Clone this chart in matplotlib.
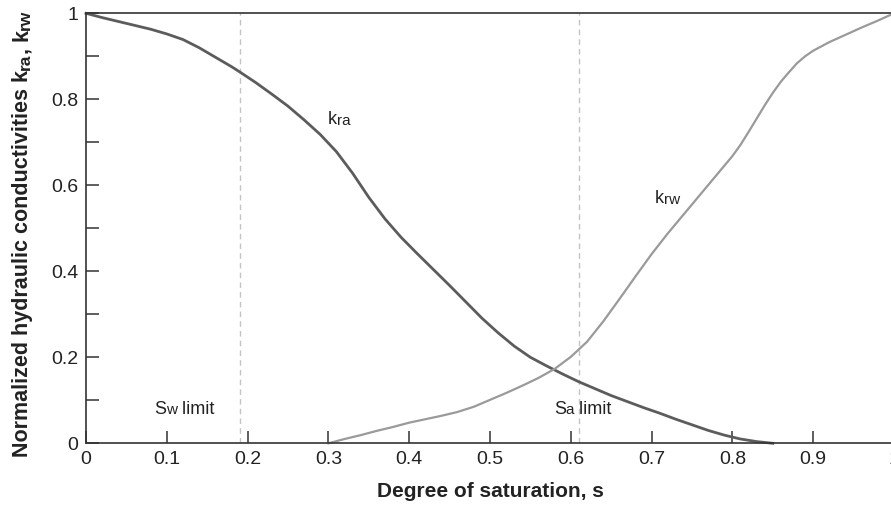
import matplotlib
matplotlib.use("Agg")
import matplotlib.pyplot as plt
from matplotlib.ticker import MultipleLocator

plt.rcParams['font.family'] = ['Liberation Sans', 'DejaVu Sans']

# saturation / conductivity
s_ra = [0.0, 0.02, 0.04, 0.06, 0.08, 0.10, 0.12, 0.14, 0.16, 0.18, 0.19, 0.21, 0.23,
        0.25, 0.27, 0.29, 0.31, 0.33, 0.35, 0.37, 0.39, 0.41, 0.43, 0.45, 0.47, 0.49,
        0.51, 0.53, 0.55, 0.57, 0.59, 0.61, 0.63, 0.65, 0.67, 0.69, 0.71, 0.73, 0.75,
        0.77, 0.79, 0.81, 0.83, 0.85]
k_ra = [1.0, 0.99, 0.981, 0.972, 0.963, 0.952, 0.939, 0.92, 0.898, 0.876, 0.864, 0.839, 0.812,
        0.784, 0.752, 0.718, 0.678, 0.628, 0.572, 0.522, 0.479, 0.441, 0.404, 0.367, 0.329, 0.291,
        0.257, 0.226, 0.2, 0.18, 0.161, 0.143, 0.127, 0.111, 0.097, 0.083, 0.07, 0.056, 0.043,
        0.03, 0.019, 0.01, 0.004, 0.0]

s_rw = [0.30, 0.32, 0.34, 0.36, 0.38, 0.40, 0.42, 0.44, 0.46, 0.48, 0.50, 0.52, 0.54,
        0.56, 0.58, 0.60, 0.62, 0.64, 0.66, 0.68, 0.70, 0.72, 0.74, 0.76, 0.78, 0.80,
        0.81, 0.82, 0.83, 0.84, 0.85, 0.86, 0.87, 0.88, 0.89, 0.90, 0.92, 0.94, 0.96,
        0.98, 1.0]
k_rw = [0.0, 0.01, 0.019, 0.029, 0.038, 0.048, 0.056, 0.064, 0.073, 0.085, 0.101, 0.117, 0.134,
        0.152, 0.173, 0.201, 0.236, 0.283, 0.335, 0.388, 0.440, 0.488, 0.533, 0.578, 0.623, 0.668,
        0.694, 0.724, 0.755, 0.786, 0.815, 0.841, 0.863, 0.884, 0.900, 0.913, 0.933, 0.950, 0.967,
        0.983, 1.0]

limits = [0.19, 0.61]
limit_labels = [("S", "w", 0.084), ("S", "a", 0.579)]
x_ticks = [0, 0.1, 0.2, 0.3, 0.4, 0.5, 0.6, 0.7, 0.8, 0.9, 1]
x_ticklabels = ["0", "0.1", "0.2", "0.3", "0.4", "0.5", "0.6", "0.7", "0.8", "0.9", "1"]
y_ticks = [0, 0.2, 0.4, 0.6, 0.8, 1]
y_ticklabels = ["0", "0.2", "0.4", "0.6", "0.8", "1"]

W, H = 891, 507
fig = plt.figure(figsize=(W / 100, H / 100), dpi=100)
ax = fig.add_axes([86 / W, (H - 443.3) / H, 808 / W, 430 / H])

txt = "#222222"
spine_c = "#333333"


def mixed_text(x, y, pieces):
    """horizontal text pieces of different sizes on one baseline"""
    s, size = pieces[0]
    prev = ax.text(x, y, s, fontsize=size, color=txt, ha="left", va="bottom")
    for s, size in pieces[1:]:
        prev = ax.annotate(s, xycoords=prev, xy=(1, 0), va="bottom", ha="left",
                           fontsize=size, color=txt)
    return prev


def mixed_vertical(x, y, pieces):
    """same thing rotated 90 deg, for the y label"""
    s, size = pieces[0]
    prev = fig.text(x, y, s, fontsize=size, color=txt, ha="right", va="bottom",
                    rotation=90, fontweight="bold")
    for s, size in pieces[1:]:
        prev = ax.annotate(s, xycoords=prev, xy=(1, 1), va="bottom", ha="right",
                           rotation=90, fontsize=size, color=txt, fontweight="bold",
                           annotation_clip=False)
    return prev


ax.plot(s_ra, k_ra, color="#5c5c5c", lw=2.0, solid_joinstyle="round", clip_on=False)
ax.plot(s_rw, k_rw, color="#9a9a9a", lw=1.6, solid_joinstyle="round", clip_on=False)

for lim in limits:
    ax.axvline(lim, color="#c4c4c4", lw=1.0, ls=(0, (4, 3)), zorder=0)

ax.set_xlim(0, 1)
ax.set_ylim(0, 1)
ax.set_xticks(x_ticks)
ax.set_xticklabels(x_ticklabels)
ax.set_yticks(y_ticks)
ax.set_yticklabels(y_ticklabels)
ax.yaxis.set_minor_locator(MultipleLocator(0.1))
ax.tick_params(which="both", direction="in", length=9, width=1.1, color=spine_c,
               labelsize=14, labelcolor=txt, pad=5.5, top=False, right=False)
for side in ["left", "bottom", "top", "right"]:
    ax.spines[side].set_color(spine_c)
    ax.spines[side].set_linewidth(1.2)

ax.set_xlabel("Degree of saturation, s", fontsize=15, fontweight="bold",
              color=txt, labelpad=10)

# curve labels
mixed_text(0.2995, 0.733, [("k", 13), ("ra", 11)])
mixed_text(0.704, 0.55, [("k", 13), ("rw", 11)])
for big, small, xpos in limit_labels:
    mixed_text(xpos, 0.06, [(big, 13), (small, 11), (" limit", 13)])

# y label with small subscripts
mixed_vertical(33 / W, (H - 457) / H,
               [("Normalized hydraulic conductivities k", 15.5), ("ra", 12.5),
                (", k", 15.5), ("rw", 12.5)])

fig.savefig("out.png", dpi=100)
